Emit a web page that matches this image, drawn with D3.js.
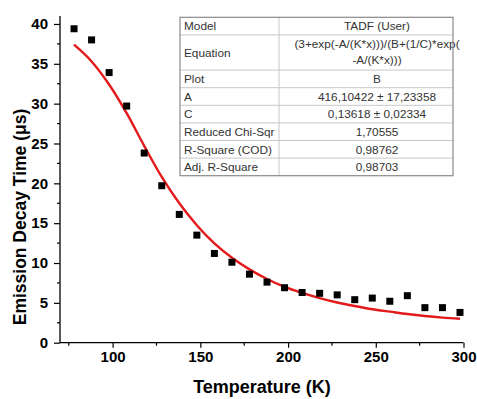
<!DOCTYPE html>
<html>
<head>
<meta charset="utf-8">
<script src="https://cdn.jsdelivr.net/npm/d3@7"></script>
<style>
  html, body { margin: 0; padding: 0; background: #fff; }
  svg { display: block; }
</style>
</head>
<body>
<svg id="chart" width="477" height="399"></svg>
<script>
// ---- data ----
const temperatures = [78, 88, 98, 108, 118, 128, 138, 148, 158, 168, 178, 188, 198, 208, 218, 228, 238, 248, 258, 268, 278, 288, 298];
const decayTimes   = [39.4, 38.0, 33.9, 29.7, 23.8, 19.7, 16.1, 13.5, 11.2, 10.1, 8.6, 7.6, 6.9, 6.3, 6.2, 6.0, 5.4, 5.6, 5.2, 5.9, 4.4, 4.4, 3.8];
const fitTemps     = [78, 88, 98, 108, 118, 128, 138, 148, 158, 168, 178, 188, 198, 208, 218, 228, 238, 248, 258, 268, 278, 288, 298];
const fitValues    = [37.4, 35.3, 32.4, 28.8, 24.7, 20.8, 17.5, 14.75, 12.45, 10.65, 9.2, 8.0, 7.0, 6.25, 5.6, 5.05, 4.6, 4.2, 3.9, 3.6, 3.35, 3.15, 3.0];
const xTicks = [100, 150, 200, 250, 300];
const xMinorTicks = [75, 125, 175, 225, 275];
const yTicks = [0, 5, 10, 15, 20, 25, 30, 35, 40];
const yMinorTicks = [2.5, 7.5, 12.5, 17.5, 22.5, 27.5, 32.5, 37.5];
const tableLabels = ["Model", "Equation", "Plot", "A", "C", "Reduced Chi-Sqr", "R-Square (COD)", "Adj. R-Square"];
const tableValues = [["TADF (User)"], ["(3+exp(-A/(K*x)))/(B+(1/C)*exp(", "-A/(K*x)))"], ["B"], ["416,10422 ± 17,23358"], ["0,13618 ± 0,02334"], ["1,70555"], ["0,98762"], ["0,98703"]];
const xTitle = "Temperature (K)";
const yTitle = "Emission Decay Time (\u03BCs)";

// ---- chart ----
const svg = d3.select("#chart");
const x = d3.scaleLinear().domain([70, 300]).range([60, 463.5]);
const y = d3.scaleLinear().domain([0, 41]).range([342.7, 16]);
const font = "'Liberation Sans', Arial, sans-serif";

// axes
const xAxis = d3.axisBottom(x).tickValues(xTicks).tickSize(5).tickPadding(4).tickFormat(d3.format("d"));
const gx = svg.append("g").attr("transform", `translate(0,${y(0)})`).call(xAxis);
gx.append("g").selectAll("line").data(xMinorTicks).join("line")
  .attr("x1", d => x(d)).attr("x2", d => x(d)).attr("y1", 0).attr("y2", 3)
  .attr("stroke", "#000").attr("stroke-width", 1.2);

const yAxis = d3.axisLeft(y).tickValues(yTicks).tickSize(6).tickPadding(6).tickFormat(d3.format("d"));
const gy = svg.append("g").attr("transform", `translate(${x(70)},0)`).call(yAxis);
gy.append("g").selectAll("line").data(yMinorTicks).join("line")
  .attr("x1", 0).attr("x2", -3).attr("y1", d => y(d)).attr("y2", d => y(d))
  .attr("stroke", "#000").attr("stroke-width", 1.2);

[gx, gy].forEach(g => {
  g.select(".domain").attr("stroke", "#000").attr("stroke-width", 1.3);
  g.selectAll(".tick line").attr("stroke", "#000").attr("stroke-width", 1.2);
  g.selectAll(".tick text").attr("font-family", font).attr("font-weight", "bold")
    .attr("font-size", "15px").attr("fill", "#000");
});
gx.select(".domain").attr("d", `M${x(70)},0H${x(300)}`);
gy.select(".domain").attr("d", `M0,${y(41)}V${y(0)}`);

// axis titles
svg.append("text").attr("x", 262).attr("y", 393)
  .attr("text-anchor", "middle").attr("font-family", font).attr("font-weight", "bold")
  .attr("font-size", "18px").attr("fill", "#000").text(xTitle);
svg.append("text").attr("transform", `translate(26,${217}) rotate(-90)`)
  .attr("text-anchor", "middle").attr("font-family", font).attr("font-weight", "bold")
  .attr("font-size", "17.5px").attr("fill", "#000").text(yTitle);

// fit line
const line = d3.line().x(d => x(d[0])).y(d => y(d[1])).curve(d3.curveMonotoneX);
svg.append("path").datum(fitTemps.map((t, i) => [t, fitValues[i]]))
  .attr("d", line).attr("fill", "none").attr("stroke", "#e3191c").attr("stroke-width", 2.4);

// data squares
const s = 7;
svg.append("g").selectAll("rect").data(temperatures.map((t, i) => [t, decayTimes[i]])).join("rect")
  .attr("x", d => x(d[0]) - s / 2).attr("y", d => y(d[1]) - s / 2)
  .attr("width", s).attr("height", s).attr("fill", "#000");

// table
const tX0 = 180, tX1 = 453, tDiv = 279, tTop = 17.3, rowH = 17.6;
const rowHeights = tableValues.map(v => v.length * rowH);
let yy = tTop;
const rowTops = rowHeights.map(h => { const t = yy; yy += h; return t; });
const tBottom = yy;
const tg = svg.append("g");
tg.append("rect").attr("x", tX0).attr("y", tTop).attr("width", tX1 - tX0).attr("height", tBottom - tTop)
  .attr("fill", "#fff");
tableLabels.forEach((lab, i) => {
  const top = rowTops[i], h = rowHeights[i];
  tg.append("text").attr("x", tX0 + 4).attr("y", top + h / 2 + 4.2)
    .attr("font-family", font).attr("font-size", "11.8px").attr("fill", "#333").text(lab);
  tableValues[i].forEach((v, j) => {
    tg.append("text").attr("x", 377).attr("y", top + j * 16 + rowH / 2 + 4.2 + (tableValues[i].length > 1 ? 0.5 : 0))
      .attr("text-anchor", "middle").attr("font-family", font).attr("font-size", "11.8px")
      .attr("fill", "#333").text(v);
  });
  if (i > 0) {
    tg.append("line").attr("x1", tX0).attr("x2", tX1).attr("y1", top).attr("y2", top)
      .attr("stroke", "#c8c8c8").attr("stroke-width", 1);
  }
});
tg.append("line").attr("x1", tDiv).attr("x2", tDiv).attr("y1", tTop).attr("y2", tBottom)
  .attr("stroke", "#c8c8c8").attr("stroke-width", 1);
tg.append("rect").attr("x", tX0).attr("y", tTop).attr("width", tX1 - tX0).attr("height", tBottom - tTop)
  .attr("fill", "none").attr("stroke", "#8a8a8a").attr("stroke-width", 1.2);
</script>
</body>
</html>
